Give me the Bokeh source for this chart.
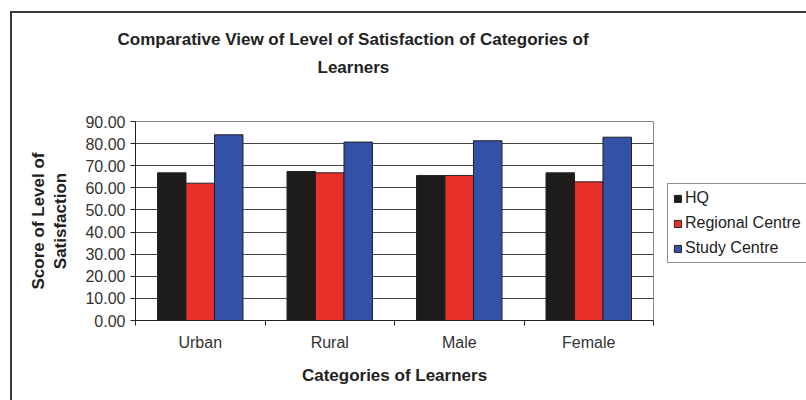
from bokeh.plotting import figure
from bokeh.models import (ColumnDataSource, FixedTicker, PrintfTickFormatter,
                          Legend, LegendItem, Title, Range1d)
from bokeh.transform import dodge
from bokeh.embed import file_html
from bokeh.resources import INLINE

categories = ["Urban", "Rural", "Male", "Female"]
series = ["HQ", "Regional Centre", "Study Centre"]
hq = [66.8, 67.4, 65.6, 66.8]
regional = [62.1, 66.8, 65.6, 62.7]
study = [84.0, 80.7, 81.3, 82.9]
y_ticks = [0, 10, 20, 30, 40, 50, 60, 70, 80, 90]
title_lines = ["Comparative View of Level of Satisfaction of Categories of", "Learners"]
colors = ["#1e1b1b", "#e8302a", "#3451a8"]

FONT = "Liberation Sans"

xpos = [i + 0.5 for i in range(len(categories))]
source = ColumnDataSource(dict(x=xpos, cat=categories, hq=hq, regional=regional, study=study))

p = figure(frame_width=518, frame_height=199, x_range=Range1d(0, len(categories)),
           y_range=Range1d(0, 90), output_backend="svg", toolbar_location=None, title=None,
           min_border_left=123, min_border_right=153, min_border_top=108, min_border_bottom=80)
p.margin = (11, 0, 0, 10)
p.styles = {"border-top": "2px solid #3a3a3a", "border-left": "2px solid #3a3a3a"}

offsets = [-0.22, 0.0, 0.22]
cols = ["hq", "regional", "study"]
renderers = []
for col, off, c in zip(cols, offsets, colors):
    r = p.vbar(x=dodge("x", off, range=p.x_range), top=col, width=0.22, source=source,
               fill_color=c, line_color="#222222", line_width=1)
    renderers.append(r)

# axes
p.yaxis.ticker = FixedTicker(ticks=y_ticks)
p.yaxis.formatter = PrintfTickFormatter(format="%.2f")
p.yaxis.major_label_text_font = FONT
p.yaxis.major_label_text_font_size = "16px"
p.yaxis.major_label_text_color = "#333333"
p.yaxis.major_tick_out = 5
p.yaxis.major_tick_in = 0
p.yaxis.minor_tick_out = 0
p.yaxis.minor_tick_in = 0
p.yaxis.axis_line_color = "#222222"
p.yaxis.major_tick_line_color = "#222222"
p.yaxis.axis_label = "Score of Level of\nSatisfaction"
p.yaxis.axis_label_text_font = FONT
p.yaxis.axis_label_text_font_style = "bold"
p.yaxis.axis_label_text_font_size = "17px"
p.yaxis.axis_label_text_color = "#222222"
p.yaxis.axis_label_standoff = 12

p.xaxis.ticker = FixedTicker(ticks=xpos, minor_ticks=list(range(len(categories) + 1)))
p.xaxis.major_label_overrides = {x: c for x, c in zip(xpos, categories)}
p.xaxis.major_label_text_font = FONT
p.xaxis.major_label_text_font_size = "16px"
p.xaxis.major_label_text_color = "#333333"
p.xaxis.major_label_standoff = 8
p.xaxis.major_tick_out = 0
p.xaxis.major_tick_in = 0
p.xaxis.minor_tick_out = 5
p.xaxis.minor_tick_in = 0
p.xaxis.minor_tick_line_color = "#222222"
p.xaxis.axis_line_color = "#222222"
p.xaxis.axis_label = "Categories of Learners"
p.xaxis.axis_label_text_font = FONT
p.xaxis.axis_label_text_font_style = "bold"
p.xaxis.axis_label_text_font_size = "17px"
p.xaxis.axis_label_text_color = "#222222"
p.xaxis.axis_label_standoff = 12

p.xgrid.grid_line_color = None
p.ygrid.ticker = FixedTicker(ticks=y_ticks)
p.ygrid.grid_line_color = "#444444"
p.ygrid.grid_line_width = 1
p.outline_line_color = "#888888"
p.background_fill_color = "white"
p.border_fill_color = "white"

spacer = Title(text=" ", align="left", standoff=21, text_font=FONT,
               text_font_size="17px")
t2 = Title(text=title_lines[1], align="left", offset=182, standoff=6, text_font=FONT,
           text_font_style="bold", text_font_size="17px", text_color="#222222")
t1 = Title(text=title_lines[0], align="left", offset=-18, standoff=7, text_font=FONT,
           text_font_style="bold", text_font_size="17px", text_color="#222222")
p.add_layout(spacer, "above")
p.add_layout(t2, "above")
p.add_layout(t1, "above")

legend = Legend(items=[LegendItem(label=s, renderers=[r]) for s, r in zip(series, renderers)],
                location=(14, 57), orientation="vertical")
legend.label_text_font = FONT
legend.label_text_font_size = "16px"
legend.label_text_color = "#222222"
legend.glyph_width = 9
legend.glyph_height = 9
legend.label_standoff = 3
legend.spacing = 7
legend.padding = 5
legend.margin = 0
legend.border_line_color = "#222222"
legend.border_line_width = 1
legend.background_fill_color = "white"
legend.background_fill_alpha = 1
p.add_layout(legend, "right")

open("out.html", "w").write(file_html(p, INLINE))
